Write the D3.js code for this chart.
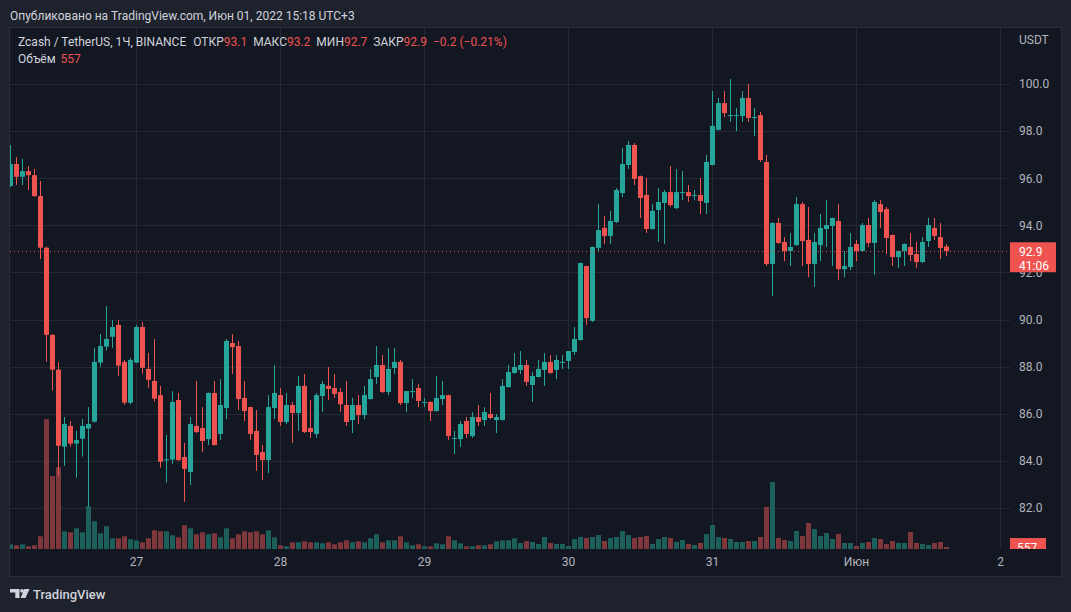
<!DOCTYPE html>
<html><head><meta charset="utf-8">
<script src="https://cdnjs.cloudflare.com/ajax/libs/d3/7.8.5/d3.min.js"></script>
<style>
body{margin:0;background:#1e222d;overflow:hidden;}
svg{display:block;font-family:Roboto,"Noto Sans",sans-serif;}
</style>
</head><body>
<svg id="chart" width="1071" height="612"></svg>
<script>
// ---------- DATA (hourly candles, ZEC/USDT, BINANCE) ----------
const firstCandle = Date.UTC(2022, 4, 26, 3); // 26 May 03:00, one candle per hour
const opens = [95.67,96.60,96.06,96.30,96.13,95.24,93.05,89.35,87.87,84.60,85.48,84.73,84.94,85.37,85.66,88.17,88.85,89.27,89.77,88.20,86.47,88.17,89.68,87.90,87.39,86.79,84.06,84.05,86.58,84.16,83.52,85.48,85.39,84.92,86.88,85.14,86.24,89.00,88.87,86.67,86.28,85.27,84.37,84.03,86.24,86.79,85.65,86.37,86.03,87.18,85.39,85.14,86.75,87.18,87.09,86.92,86.37,85.73,86.37,85.94,86.62,87.56,88.07,86.92,87.94,88.20,86.45,86.96,87.09,86.50,86.50,86.11,86.62,86.79,84.97,84.92,85.69,85.05,85.86,85.73,85.99,85.73,85.73,87.13,87.73,87.86,88.07,87.22,87.56,87.86,88.20,87.86,88.20,88.24,88.62,89.13,92.27,89.94,93.04,93.89,93.55,94.14,95.37,96.56,97.41,96.09,95.29,93.84,94.65,94.95,95.41,94.73,95.41,95.41,95.29,95.29,94.95,96.56,98.05,99.19,98.68,98.68,98.64,99.41,98.60,98.68,96.69,92.36,94.10,93.29,92.91,93.16,94.90,93.38,92.36,93.16,93.84,93.97,94.18,92.14,92.23,93.21,92.91,94.01,93.25,94.90,94.69,93.59,92.65,92.91,93.08,92.78,92.44,93.33,93.89,93.50,93.1];
const highs = [97.41,96.89,96.82,96.52,96.39,95.88,93.10,89.38,88.20,85.86,85.69,85.27,85.78,86.28,88.79,89.38,90.57,89.98,89.98,88.28,88.37,89.77,89.89,88.58,89.17,87.18,85.10,86.96,86.88,84.76,85.86,87.39,86.28,86.90,87.39,87.47,89.17,89.38,89.09,87.39,86.30,86.16,84.67,86.79,88.07,87.09,86.88,86.50,87.60,87.69,86.58,86.88,87.39,87.98,87.69,87.09,87.39,86.67,86.79,87.18,87.90,88.87,88.49,88.79,88.79,88.28,86.96,87.47,87.26,86.67,86.52,87.60,87.39,86.81,85.27,85.69,85.86,86.07,86.37,86.28,86.88,85.99,87.47,88.07,88.58,88.66,88.28,87.77,88.28,88.58,88.49,88.49,88.49,88.66,89.68,92.42,92.29,93.10,94.90,94.39,94.61,95.58,97.28,97.58,97.49,96.11,96.01,94.90,95.58,95.50,96.52,96.39,96.31,95.71,95.50,96.01,96.99,99.70,99.41,99.70,100.21,98.98,99.70,100.00,98.98,98.81,96.99,94.12,94.31,93.50,93.67,95.20,94.99,94.78,93.67,94.48,95.07,94.33,94.90,92.91,93.67,93.38,94.10,94.31,95.07,95.07,94.78,93.61,92.93,93.23,93.67,93.29,93.50,94.31,94.31,94.10,93.2];
const lows = [95.63,95.71,95.71,95.50,95.21,92.57,88.21,86.98,83.37,83.79,84.60,83.28,84.18,82.05,85.62,88.00,88.68,88.80,87.61,86.38,86.40,88.15,87.70,87.10,86.51,83.71,83.07,83.88,83.99,82.26,82.97,85.18,84.37,84.67,84.65,84.88,85.77,87.69,86.16,85.69,84.88,83.57,83.18,83.48,85.77,85.48,85.56,84.76,85.27,85.18,84.97,84.97,86.07,86.58,86.67,86.07,85.48,85.18,85.56,85.77,86.60,87.26,86.88,86.79,87.69,86.37,86.07,86.67,86.28,86.28,85.69,86.09,86.37,84.88,84.29,84.59,84.97,84.97,85.48,85.48,85.77,85.18,85.71,87.11,87.69,87.69,87.18,86.50,87.54,87.18,87.69,87.47,87.90,87.90,88.49,89.11,89.77,89.89,92.91,93.21,93.21,94.10,95.20,96.39,95.71,94.31,93.67,93.82,93.29,93.21,94.78,94.69,95.07,94.99,95.07,94.48,94.48,96.54,98.03,98.60,98.39,98.00,98.39,98.39,97.79,96.69,92.27,91.00,93.21,92.48,92.27,93.14,92.27,91.80,91.38,92.48,93.08,92.27,91.68,91.80,92.10,92.48,92.89,93.08,91.89,93.89,92.78,92.27,92.19,92.27,92.48,92.19,92.40,93.08,93.38,92.57,92.7];
const closes = [96.60,96.06,96.30,96.13,95.24,93.05,89.35,87.87,84.64,85.56,84.73,84.88,85.48,85.56,88.20,88.87,89.17,89.68,88.04,86.47,88.28,89.68,87.95,87.44,86.64,83.96,84.06,86.50,84.03,83.65,85.56,85.22,84.84,86.88,84.67,86.37,89.09,88.83,86.62,86.11,85.14,84.25,84.03,86.28,86.88,85.65,86.37,86.03,87.18,85.22,85.22,86.79,87.26,87.05,86.84,86.40,85.65,86.37,85.94,86.79,87.47,88.07,86.92,87.90,88.20,86.45,86.96,86.96,86.54,86.50,86.11,86.67,86.79,85.05,84.97,85.56,85.14,85.86,85.65,86.07,85.82,85.86,87.18,87.77,87.98,88.07,87.35,87.60,87.90,88.20,87.73,88.28,88.20,88.66,89.17,92.40,90.06,93.08,93.80,93.55,94.18,95.50,96.60,97.41,95.97,95.16,93.84,94.61,94.99,95.41,94.86,95.41,95.41,95.24,95.29,95.03,96.69,98.22,99.19,98.77,98.68,98.68,99.41,98.56,98.60,96.77,92.36,94.10,93.25,92.91,93.08,94.90,93.33,92.36,93.29,93.89,94.01,94.31,92.14,92.27,93.08,92.91,94.01,93.25,94.99,94.56,93.46,92.65,92.91,93.21,92.74,92.44,93.29,94.01,93.55,93.04,92.9];
const volumes = [1320,1040,1320,760,1040,3560,36300,20400,22900,4960,4680,5800,4680,11960,7760,4400,6360,3000,3000,3560,2720,2440,1880,3000,5240,4960,4960,3840,3280,6640,5800,4120,4680,4120,4400,3280,5800,3000,4120,4960,4680,4960,4120,5240,3280,1040,760,1880,1880,2160,1880,1880,1600,1880,1320,1880,2440,1880,2160,1880,3000,4120,1880,2440,2440,3560,1880,1040,1320,760,760,1600,1320,3560,2440,1600,760,760,1040,1040,1320,2160,2440,2440,3000,1680,2240,1960,1400,3360,1680,1400,1400,840,2800,3360,3080,3360,3920,2240,3080,3360,5040,3920,3080,3360,3640,1400,2800,3360,3080,1960,2520,1400,1120,1680,4200,6720,3360,3080,2800,1960,1960,2240,2240,3360,11760,18760,3080,2520,2240,5040,3640,7280,5600,3640,4480,2800,4200,1680,1680,840,1680,1960,3080,2800,1400,2240,1680,1680,4760,1680,1400,1120,1680,1960,557];
const priceTicks = [82,84,86,88,90,92,94,96,98,100];
const dayTicks = [Date.UTC(2022,4,27),Date.UTC(2022,4,28),Date.UTC(2022,4,29),Date.UTC(2022,4,30),Date.UTC(2022,4,31),Date.UTC(2022,5,1),Date.UTC(2022,5,2)];
const dayLabels = ["27","28","29","30","31","Июн","2"];
const lastPrice = 92.9, lastVolume = 557, countdown = "41:06";
const headerText = "Опубликовано на TradingView.com, Июн 01, 2022 15:18 UTC+3";
const legendTitle = "Zcash / TetherUS, 1Ч, BINANCE";
const legendKeys = ["ОТКР","МАКС","МИН","ЗАКР"];
const legendValues = ["93.1","93.2","92.7","92.9"];
const legendChange = "−0.2 (−0.21%)";

// ---------- LAYOUT ----------
const W = 1071, H = 612;
const plot = {left:10, right:1010, top:28, bottom:549};
const UP = "#26a69a", DOWN = "#ef5350";
const UPV = "#1d5f5b", DOWNV = "#7e373b";
const svg = d3.select("#chart");

const data = opens.map((o,i)=>({t:new Date(firstCandle + i*3600e3), o, h:highs[i], l:lows[i], c:closes[i], v:volumes[i]}));

const x = d3.scaleUtc().domain([new Date(firstCandle), new Date(Date.UTC(2022,5,2))]).range([10, 1000]);
const y = d3.scaleLinear().domain([82,100]).range([507.9, 84]);
const yv = d3.scaleLinear().domain([0,40000]).range([plot.bottom, plot.bottom-142.9]);

// backgrounds
svg.append("rect").attr("width",W).attr("height",H).attr("fill","#1e222d");
svg.append("rect").attr("x",9.5).attr("y",27.5).attr("width",1052).attr("height",549).attr("fill","#131722");

const defs = svg.append("defs");
defs.append("clipPath").attr("id","clip").append("rect")
  .attr("x",plot.left).attr("y",plot.top).attr("width",plot.right-plot.left).attr("height",plot.bottom-plot.top);

// grid
const grid = svg.append("g");
grid.selectAll("line.h").data(priceTicks).join("line")
  .attr("x1",plot.left).attr("x2",plot.right)
  .attr("y1",d=>Math.round(y(d))+0.5).attr("y2",d=>Math.round(y(d))+0.5)
  .attr("stroke","#242832").attr("stroke-width",1);
grid.selectAll("line.v").data(dayTicks).join("line")
  .attr("y1",plot.top).attr("y2",plot.bottom)
  .attr("x1",d=>Math.round(x(new Date(d)))+0.5).attr("x2",d=>Math.round(x(new Date(d)))+0.5)
  .attr("stroke","#242832").attr("stroke-width",1);

const g = svg.append("g").attr("clip-path","url(#clip)");
const bw = 5;
const cx = d => Math.round(x(d.t));
const up = d => d.c >= d.o;

// volume bars
g.append("g").selectAll("rect").data(data).join("rect")
  .attr("x",d=>cx(d)-2).attr("width",bw)
  .attr("y",d=>yv(d.v)).attr("height",d=>plot.bottom-yv(d.v))
  .attr("fill",d=>up(d)?UPV:DOWNV);

// wicks
g.append("g").selectAll("rect").data(data).join("rect")
  .attr("x",d=>cx(d)).attr("width",1)
  .attr("y",d=>y(d.h)).attr("height",d=>Math.max(1,y(d.l)-y(d.h)))
  .attr("fill",d=>up(d)?UP:DOWN);
// bodies
g.append("g").selectAll("rect").data(data).join("rect")
  .attr("x",d=>cx(d)-2).attr("width",bw)
  .attr("y",d=>y(Math.max(d.o,d.c))).attr("height",d=>Math.max(1,Math.abs(y(d.o)-y(d.c))))
  .attr("fill",d=>up(d)?UP:DOWN);

// last price dotted line
svg.append("line").attr("x1",plot.left).attr("x2",plot.right)
  .attr("y1",Math.round(y(lastPrice))+0.5).attr("y2",Math.round(y(lastPrice))+0.5)
  .attr("stroke",DOWN).attr("stroke-width",1).attr("stroke-dasharray","1,3");

// price axis
const yAxis = svg.append("g").attr("transform",`translate(${plot.right},0)`)
  .call(d3.axisRight(y).tickValues(priceTicks).tickSize(0).tickPadding(9).tickFormat(d3.format(".1f")));
yAxis.select(".domain").remove();
yAxis.selectAll("text").attr("fill","#b2b5be").attr("font-size",12).attr("font-family","Roboto,sans-serif");

svg.append("text").attr("x",1019).attr("y",44).attr("fill","#b2b5be").attr("font-size",12).text("USDT");

// time axis
const xAxis = svg.append("g").attr("transform",`translate(0,${plot.bottom})`)
  .call(d3.axisBottom(x).tickValues(dayTicks.map(d=>new Date(d))).tickSize(0).tickPadding(8)
    .tickFormat((d,i)=>dayLabels[i]));
xAxis.select(".domain").remove();
xAxis.selectAll("text").attr("fill","#b2b5be").attr("font-size",12).attr("font-family","Roboto,sans-serif");

// last price label
const ly = y(lastPrice);
svg.append("rect").attr("x",1010).attr("y",ly-9).attr("width",46).attr("height",30).attr("rx",1).attr("fill",DOWN);
svg.append("text").attr("x",1019).attr("y",ly+4.5).attr("fill","#ffffff").attr("font-size",12).text(d3.format(".1f")(lastPrice));
svg.append("text").attr("x",1019).attr("y",ly+19).attr("fill","#ffffff").attr("font-size",12).text(countdown);

// volume label
const vy = yv(lastVolume);
svg.append("rect").attr("x",1010).attr("y",vy-9).attr("width",36).attr("height",plot.bottom-(vy-9)).attr("fill",DOWN);
svg.append("clipPath").attr("id","vclip").append("rect").attr("x",1010).attr("y",vy-9).attr("width",36).attr("height",plot.bottom-(vy-9));
svg.append("text").attr("clip-path","url(#vclip)").attr("x",1017).attr("y",vy+4.5).attr("fill","#ffffff").attr("font-size",12).text(lastVolume);

// pane border
svg.append("rect").attr("x",9.5).attr("y",27.5).attr("width",1052).attr("height",549)
  .attr("fill","none").attr("stroke","#2a2e39").attr("stroke-width",1);

// header
svg.append("text").attr("x",10).attr("y",19.5).attr("fill","#d1d4dc").attr("font-size",12).text(headerText);

// legend: one text line built from tspans
const leg = svg.append("text").attr("x",18).attr("y",46).attr("font-size",12).attr("fill","#d1d4dc");
leg.append("tspan").text(legendTitle);
legendKeys.forEach((k,i)=>{
  leg.append("tspan").attr("dx", i===0 ? 7 : 6).text(k);
  leg.append("tspan").attr("fill",DOWN).text(legendValues[i]);
});
leg.append("tspan").attr("dx",6).attr("fill",DOWN).text(legendChange);

const leg2 = svg.append("text").attr("x",18).attr("y",63).attr("font-size",12).attr("fill","#d1d4dc");
leg2.append("tspan").text("Объём");
leg2.append("tspan").attr("dx",5).attr("fill",DOWN).text(lastVolume);

// TradingView logo
const logo = svg.append("g").attr("fill","#d1d4dc");
logo.append("path").attr("d","M10 589 H19.5 V598 H15.3 V592.5 H10 Z");
logo.append("circle").attr("cx",22).attr("cy",590.8).attr("r",1.9);
logo.append("path").attr("d","M24.3 589 H29.5 L25.5 598 H20.6 Z");
svg.append("text").attr("x",33).attr("y",599).attr("fill","#d1d4dc").attr("font-size",13).attr("font-weight",500).text("TradingView");
</script>
</body></html>
